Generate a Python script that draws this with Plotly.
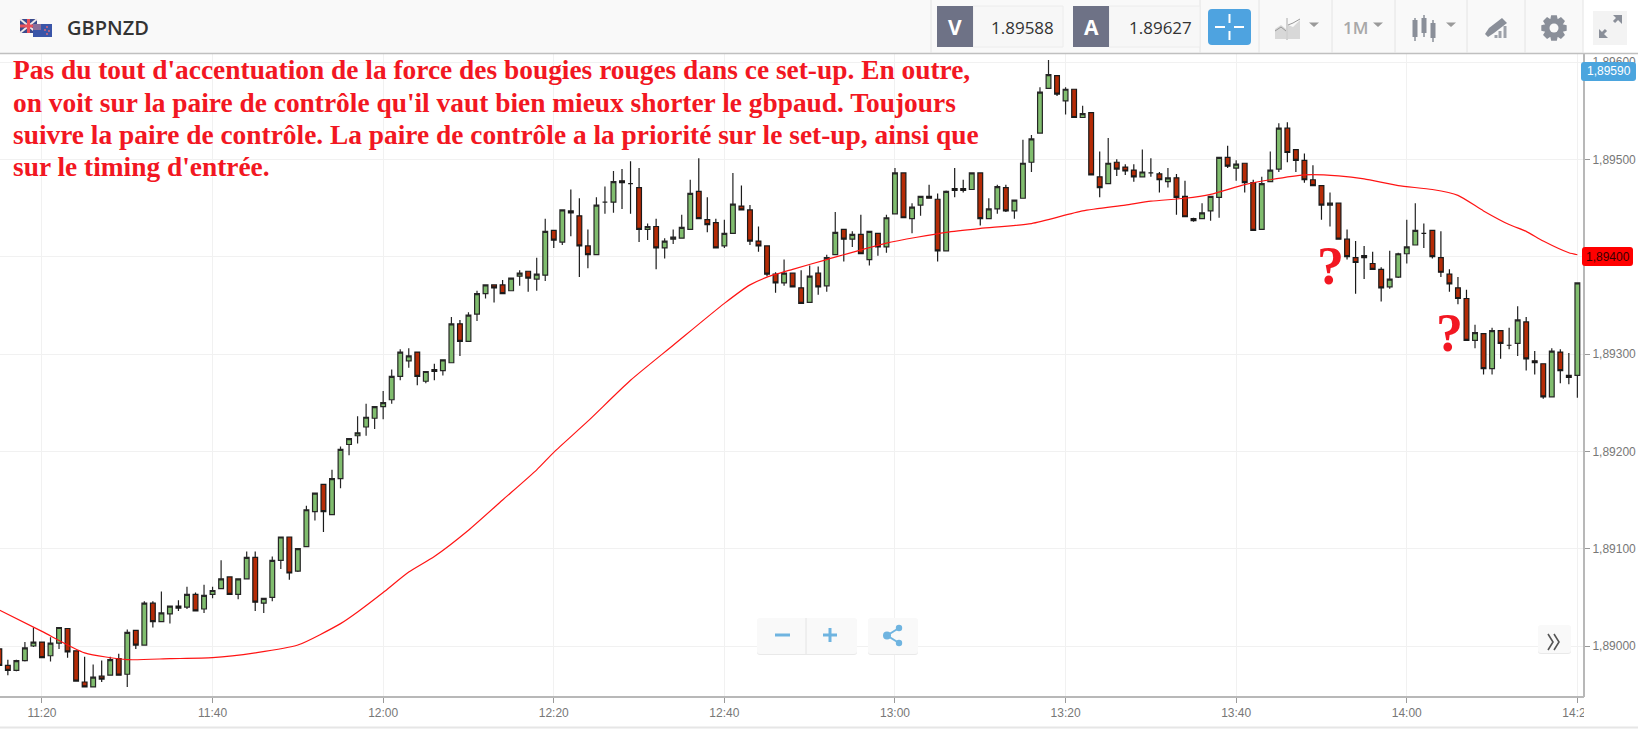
import math
import pandas as pd
import plotly.graph_objects as go

# ---- data (prices are 1.89000 + n * 0.00001) ----
PRICE_BASE = 1.89
PIP = 0.00001
first_candle = "2016-01-01 11:15"

open_pts = [-3,-20,-25,-15,0,4,-10,3,18,-5,
    -37,-42,-31,-30,-13,-29,16,1,44,25,
    33,41,40,53,38,53,59,71,53,69,
    91,44,50,88,112,77,102,138,166,135,
    172,207,216,225,234,246,253,277,293,302,
    272,284,283,291,331,313,341,362,371,371,
    365,380,385,377,381,427,415,447,442,411,
    402,456,456,478,475,471,428,431,409,418,
    419,428,467,438,435,411,424,452,448,416,
    411,382,373,383,368,353,383,370,402,428,
    418,423,397,424,410,444,486,439,453,462,
    459,406,470,470,469,486,439,449,471,447,
    460,497,527,573,586,560,572,543,548,482,
    475,497,492,489,482,486,485,477,481,462,
    439,439,447,461,502,491,496,476,428,477,
    490,532,510,499,479,473,453,455,418,399,
    401,393,387,369,379,403,412,424,427,399,
    382,368,357,314,321,285,324,309,311,333,
    293,290,256,302,278,278]
high_pts = [-3,-14,-14,4,19,4,9,19,18,-5,
    -11,-19,-15,-11,-8,17,16,46,46,56,
    41,47,61,55,63,61,88,71,69,97,
    97,49,92,112,112,100,144,157,166,181,
    205,213,236,249,246,262,284,305,306,302,
    282,290,294,338,335,343,365,371,371,376,
    378,386,385,399,439,427,448,469,460,428,
    461,472,488,490,498,491,434,439,419,428,
    443,479,501,461,439,438,486,473,453,431,
    411,384,397,383,386,391,390,402,446,428,
    426,443,426,424,443,491,486,455,462,474,
    465,468,491,479,486,486,460,474,474,458,
    520,525,574,602,586,574,572,555,548,508,
    522,500,495,495,510,501,487,491,485,478,
    440,455,462,502,514,499,496,479,482,508,
    537,538,510,506,494,473,466,455,428,416,
    411,405,389,406,404,438,455,434,427,426,
    387,379,366,330,321,327,324,327,349,338,
    303,290,306,305,301,373]
low_pts = [-28,-30,-26,-16,-1,-12,-16,-3,-12,-36,
    -42,-42,-37,-30,-30,-42,-3,1,19,25,
    23,36,38,36,34,49,59,53,48,69,
    36,34,46,79,68,76,102,129,117,135,
    162,196,208,216,223,233,249,273,286,268,
    270,273,278,291,298,313,334,357,353,362,
    365,370,364,365,375,409,412,421,379,388,
    402,444,445,449,444,415,417,387,398,413,
    419,428,439,425,409,409,424,448,412,405,
    380,363,370,369,352,353,361,364,402,395,
    410,403,391,401,404,444,440,424,442,460,
    395,406,461,466,469,432,439,444,446,439,
    460,487,527,573,565,546,543,543,484,461,
    475,483,484,477,482,482,466,471,443,441,
    436,439,437,440,491,478,466,427,428,477,
    487,497,487,476,473,438,431,418,397,362,
    377,387,354,367,378,393,412,409,398,379,
    364,351,314,306,279,279,295,305,298,283,
    279,254,256,270,269,255]
close_pts = [-20,-25,-15,-2,4,-12,3,19,-6,-36,
    -42,-32,-34,-14,-30,14,1,44,25,34,
    41,39,53,36,52,57,69,53,69,91,
    45,49,88,112,75,100,140,157,138,172,
    202,213,219,235,246,250,277,302,298,277,
    282,282,294,331,313,340,362,371,368,362,
    378,383,378,382,426,417,448,445,411,402,
    453,456,477,476,475,428,431,409,416,420,
    430,465,439,433,409,424,454,448,416,411,
    382,373,383,369,352,380,369,399,425,418,
    423,403,426,410,440,486,440,451,462,460,
    406,467,468,468,486,439,449,472,447,458,
    496,521,569,587,567,572,543,547,484,471,
    496,490,488,482,487,486,479,481,461,441,
    437,445,462,502,493,495,476,427,475,489,
    532,507,499,479,473,453,455,418,400,394,
    399,387,368,377,403,410,427,424,400,384,
    372,357,314,322,285,324,311,309,335,295,
    291,256,303,283,276,373]

ma_times = ["11:15","11:20","11:25","11:30","11:35","11:40","11:45","11:50","11:55","11:57",
    "12:00","12:03","12:06","12:10","12:14","12:18","12:20","12:24","12:29","12:34",
    "12:40","12:43","12:45","12:48","12:52","12:59","13:06","13:10","13:16","13:22","13:27",
    "13:30","13:34","13:37","13:41","13:44","13:48","13:52","13:55","13:59","14:03",
    "14:06","14:09","14:12","14:14","14:16","14:19","14:20"]
ma_pts = [37,15,-7,-14,-13,-12,-7,1,23,35,
    55,76,92,119,150,181,199,231,273,309,
    352,371,379,387,397,414,425,429,434,447,453,
    457,460,464,474,479,484,483,480,473,469,
    463,447,433,426,416,404,402]

x_ticks = ["11:20","11:40","12:00","12:20","12:40","13:00","13:20","13:40","14:00","14:20"]
y_ticks = [1.890,1.891,1.892,1.893,1.894,1.895,1.896]
# 1,89400 is carried by the red price badge in the reference
y_tick_labels = ["1,89000","1,89100","1,89200","1,89300","","1,89500","1,89600"]
symbol = "GBPNZD"
bid, ask = "1.89588", "1.89627"
note_lines = [
    "Pas du tout d'accentuation de la force des bougies rouges dans ce set-up. En outre,",
    "on voit sur la paire de contrôle qu'il vaut bien mieux shorter le gbpaud. Toujours",
    "suivre la paire de contrôle. La paire de contrôle a la priorité sur le set-up, ainsi que",
    "sur le timing d'entrée.",
]

# ---- layout constants ----
W, H = 1638, 729
L, R, T, B = 0, 1583, 53, 696
DAY = first_candle[:10]
X = lambda px: (px - L) / (R - L)
Y = lambda py: 1 - (py - T) / (B - T)

times = pd.date_range(first_candle, periods=len(open_pts), freq="min")
to_price = lambda a: [round(PRICE_BASE + v * PIP, 5) for v in a]

fig = go.Figure()
fig.add_trace(go.Candlestick(
    x=times, open=to_price(open_pts), high=to_price(high_pts),
    low=to_price(low_pts), close=to_price(close_pts),
    increasing=dict(fillcolor="#80bd6e", line=dict(color="#262626", width=1.2)),
    decreasing=dict(fillcolor="#b52b06", line=dict(color="#1a1a1a", width=1.2)),
    whiskerwidth=0, hoverinfo="skip", showlegend=False))
fig.add_trace(go.Scatter(
    x=[f"{DAY} {t}" for t in ma_times], y=to_price(ma_pts), mode="lines",
    line=dict(color="#ff1414", width=1.2, shape="spline", smoothing=0.6),
    hoverinfo="skip", showlegend=False))

shapes, notes = [], []

def rect(x0, y0, x1, y1, fill, line=None, lw=1):
    shapes.append(dict(type="rect", xref="paper", yref="paper", layer="above",
                       x0=X(x0), x1=X(x1), y0=Y(y0), y1=Y(y1), fillcolor=fill,
                       line=dict(color=line or fill, width=lw if line else 0)))

def seg(x0, y0, x1, y1, color, lw=1):
    shapes.append(dict(type="line", xref="paper", yref="paper", layer="above",
                       x0=X(x0), x1=X(x1), y0=Y(y0), y1=Y(y1),
                       line=dict(color=color, width=lw)))

def poly(pts, fill, line=None, lw=0, closed=True):
    d = "M" + " L".join(f"{X(a):.6f},{Y(b):.6f}" for a, b in pts) + (" Z" if closed else "")
    shapes.append(dict(type="path", xref="paper", yref="paper", layer="above", path=d,
                       fillcolor=fill, line=dict(color=line or fill, width=lw)))

def rrect(x0, y0, x1, y1, r, fill):
    def P(a, b):
        return f"{X(a):.6f},{Y(b):.6f}"
    d = (f"M{P(x0+r,y0)} L{P(x1-r,y0)} Q{P(x1,y0)} {P(x1,y0+r)} L{P(x1,y1-r)} Q{P(x1,y1)} {P(x1-r,y1)} "
         f"L{P(x0+r,y1)} Q{P(x0,y1)} {P(x0,y1-r)} L{P(x0,y0+r)} Q{P(x0,y0)} {P(x0+r,y0)} Z")
    shapes.append(dict(type="path", xref="paper", yref="paper", layer="above", path=d,
                       fillcolor=fill, line=dict(color=fill, width=0)))

def circ(cx, cy, r, fill):
    shapes.append(dict(type="circle", xref="paper", yref="paper", layer="above",
                       x0=X(cx-r), x1=X(cx+r), y0=Y(cy-r), y1=Y(cy+r),
                       fillcolor=fill, line=dict(color=fill, width=0)))

def text(px, py, s, size, color, family="Open Sans", anchor="center", weight=None):
    f = dict(size=size, color=color, family=family)
    if weight:
        f["weight"] = weight
    notes.append(dict(xref="paper", yref="paper", x=X(px), y=Y(py), text=s, showarrow=False,
                      xanchor=anchor, yanchor="middle", font=f, borderpad=0, borderwidth=0))

# toolbar
rect(0, 0, W, 53, "#f9f9f9")
rect(1583, 0, W, 53, "#ffffff")
seg(0, 53.5, W, 53.5, "#c0c0c0", 1.5)
for sx in [931, 1200, 1259, 1332, 1395, 1467, 1525, 1583]:
    seg(sx, 0, sx, 53, "#e4e4e4", 1)

# flags
rect(20, 19, 37, 33, "#3a4a8c")
seg(20, 19, 37, 33, "#f0e8e8", 2)
seg(37, 19, 20, 33, "#f0e8e8", 2)
rect(20, 24.5, 37, 27.5, "#e8505a")
rect(27, 19, 30, 33, "#e8505a")
rect(33, 24, 52, 37, "#3a55a8")
rect(33, 24, 41, 30, "#8a6f9a")
for cx, cy in [(47, 27), (45, 30), (49, 31), (47, 34)]:
    circ(cx, cy, 0.9, "#e86a78")
text(67, 27.5, symbol, 20, "#333333", anchor="left", weight=600)

# bid / ask boxes
rect(973, 6, 1063, 47, "#f7f7f7", "#ececec")
rect(937, 6, 973, 47, "#6e7286")
rect(1109, 6, 1200, 47, "#f7f7f7", "#ececec")
rect(1073, 6, 1109, 47, "#6e7286")
text(955, 27, "V", 21, "#ffffff", weight=700)
text(1091, 27, "A", 21, "#ffffff", weight=700)
text(1022, 27, bid, 17, "#333333")
text(1160, 27, ask, 17, "#333333")

# crosshair button
rrect(1208, 9, 1251, 45, 4, "#4ea3e0")
seg(1215, 27, 1225, 27, "#ffffff", 2)
seg(1234, 27, 1244, 27, "#ffffff", 2)
seg(1229.5, 14, 1229.5, 23, "#ffffff", 2)
seg(1229.5, 31, 1229.5, 40, "#ffffff", 2)

# chart-type icon
poly([(1275, 39), (1275, 29), (1281, 25), (1286, 29), (1286, 39)], "#d8d8d8")
poly([(1288, 39), (1288, 25), (1293, 27), (1300, 20), (1300, 39)], "#d8d8d8")
seg(1281, 27, 1275, 31, "#999999", 1)
seg(1281, 27, 1286, 31, "#999999", 1)
seg(1288, 25, 1293, 23, "#999999", 1)
seg(1293, 23, 1300, 19, "#999999", 1)
seg(1287, 18, 1287, 40, "#aaaaaa", 1)
for cx in [1314, 1378, 1451]:
    poly([(cx-5, 22.5), (cx+5, 22.5), (cx, 27)], "#9a9a9a")
text(1355, 28, "1M", 17, "#a8a8a8", weight=600)

# candle icon
for cx, w0, w1, b0, b1 in [(1415, 18, 41, 20, 37), (1424, 15, 37, 18, 33), (1433, 20, 42, 23, 38)]:
    seg(cx, w0, cx, w1, "#8a8f99", 1.5)
    rect(cx-2.5, b0, cx+2.5, b1, "#8a8f99")

# drawing icon
poly([(1485, 34), (1489, 28), (1502, 18), (1507, 23), (1494, 33), (1488, 37)], "#8a8f99")
for bx, by in [(1496, 35), (1500, 31), (1505, 26)]:
    rect(bx-1.5, by, bx+1.5, 38, "#9ea2aa")

# gear
gear = []
for i in range(8):
    a = i * math.pi / 4
    for da, rr in [(-0.40, 9.5), (-0.22, 13), (0.22, 13), (0.40, 9.5)]:
        gear.append((1554 + rr * math.cos(a + da), 28 + rr * math.sin(a + da)))
poly(gear, "#8a8f99")
circ(1554, 28, 4.5, "#f9f9f9")

# fullscreen
rect(1593, 11, 1627, 45, "#f3f3f3")
seg(1606, 30, 1601, 35, "#8a8f99", 3)
seg(1614, 22, 1619, 17, "#8a8f99", 3)
poly([(1599, 29), (1599, 38), (1608, 38)], "#8a8f99")
poly([(1613, 15), (1622, 15), (1622, 24)], "#8a8f99")

# zoom / share / more buttons
rrect(757, 619, 857, 655, 3, "#e9e9e9")
rrect(757, 618, 857, 654, 3, "#f9f9f9")
seg(806, 618, 806, 654, "#e4e4e4", 1)
seg(775, 635, 790, 635, "#6fb4e0", 3)
seg(823, 635, 837, 635, "#6fb4e0", 3)
seg(830, 628, 830, 642, "#6fb4e0", 3)
rrect(868, 619, 918, 655, 3, "#e9e9e9")
rrect(868, 618, 918, 654, 3, "#f9f9f9")
seg(899, 628, 887, 635.5, "#6fb4e0", 2)
seg(899, 643, 887, 635.5, "#6fb4e0", 2)
circ(899, 628, 3.2, "#6fb4e0")
circ(887, 635.5, 4, "#6fb4e0")
circ(899, 643, 3.2, "#6fb4e0")
rrect(1538, 626, 1571, 654, 3, "#e9e9e9")
rrect(1538, 625, 1571, 653, 3, "#f9f9f9")
poly([(1548, 634), (1553, 642), (1548, 650)], "rgba(0,0,0,0)", "#555555", 1.6, closed=False)
poly([(1554, 634), (1559, 642), (1554, 650)], "rgba(0,0,0,0)", "#555555", 1.6, closed=False)

# hides the part of the last time label that runs past the price axis
rect(1584, 697, 1610, 725, "#ffffff")
seg(0, 727.5, W, 727.5, "#e6e6e6", 2)

# price badges
rrect(1581, 62, 1636, 81, 3, "#4ba5de")
text(1608.5, 71.5, "1,89590", 12, "#ffffff", "Liberation Sans")
rrect(1582, 247, 1633, 266, 3, "#ff0000")
text(1607.5, 257, "1,89400", 12, "#3a0000", "Liberation Sans")

# red hand-written notes
for line, py in zip(note_lines, [70, 103, 135, 167]):
    text(13, py, f"<b>{line}</b>", 27.4, "#f21722", "Liberation Serif", anchor="left")
text(1330, 266, "<b>?</b>", 54, "#f21722", "Liberation Serif")
text(1449, 333, "<b>?</b>", 54, "#f21722", "Liberation Serif")

fig.update_layout(
    width=W, height=H, margin=dict(l=L, r=W - R, t=T, b=H - B, pad=0),
    paper_bgcolor="#ffffff", plot_bgcolor="#ffffff", separators=", ",
    showlegend=False, hovermode=False, shapes=shapes, annotations=notes, boxgap=0.2,
    xaxis=dict(
        type="date", range=[f"{DAY} 11:15:04.8", f"{DAY} 14:20:39.6"],
        rangeslider=dict(visible=False),
        tickvals=[f"{DAY} {t}" for t in x_ticks], tickformat="%H:%M",
        ticks="outside", ticklen=5, tickcolor="#999999", tickwidth=1,
        tickfont=dict(family="Liberation Sans", size=12, color="#777777"),
        showgrid=True, gridcolor="#f1f1f1", gridwidth=1,
        showline=True, linecolor="#b8b8b8", linewidth=2, zeroline=False),
    yaxis=dict(
        side="right", range=[PRICE_BASE + (B - 646) * -1.0274 * PIP, PRICE_BASE + (646 - T) * 1.0274 * PIP],
        tickvals=y_ticks, ticktext=y_tick_labels,
        ticks="outside", ticklen=5, tickcolor="#999999", tickwidth=1,
        tickfont=dict(family="Liberation Sans", size=12, color="#777777"),
        showgrid=True, gridcolor="#f1f1f1", gridwidth=1,
        showline=True, linecolor="#b8b8b8", linewidth=2, zeroline=False),
)

fig.write_html("out.html", config=dict(displayModeBar=False),
               post_script="document.body.style.margin='0';document.body.style.overflow='hidden';")
